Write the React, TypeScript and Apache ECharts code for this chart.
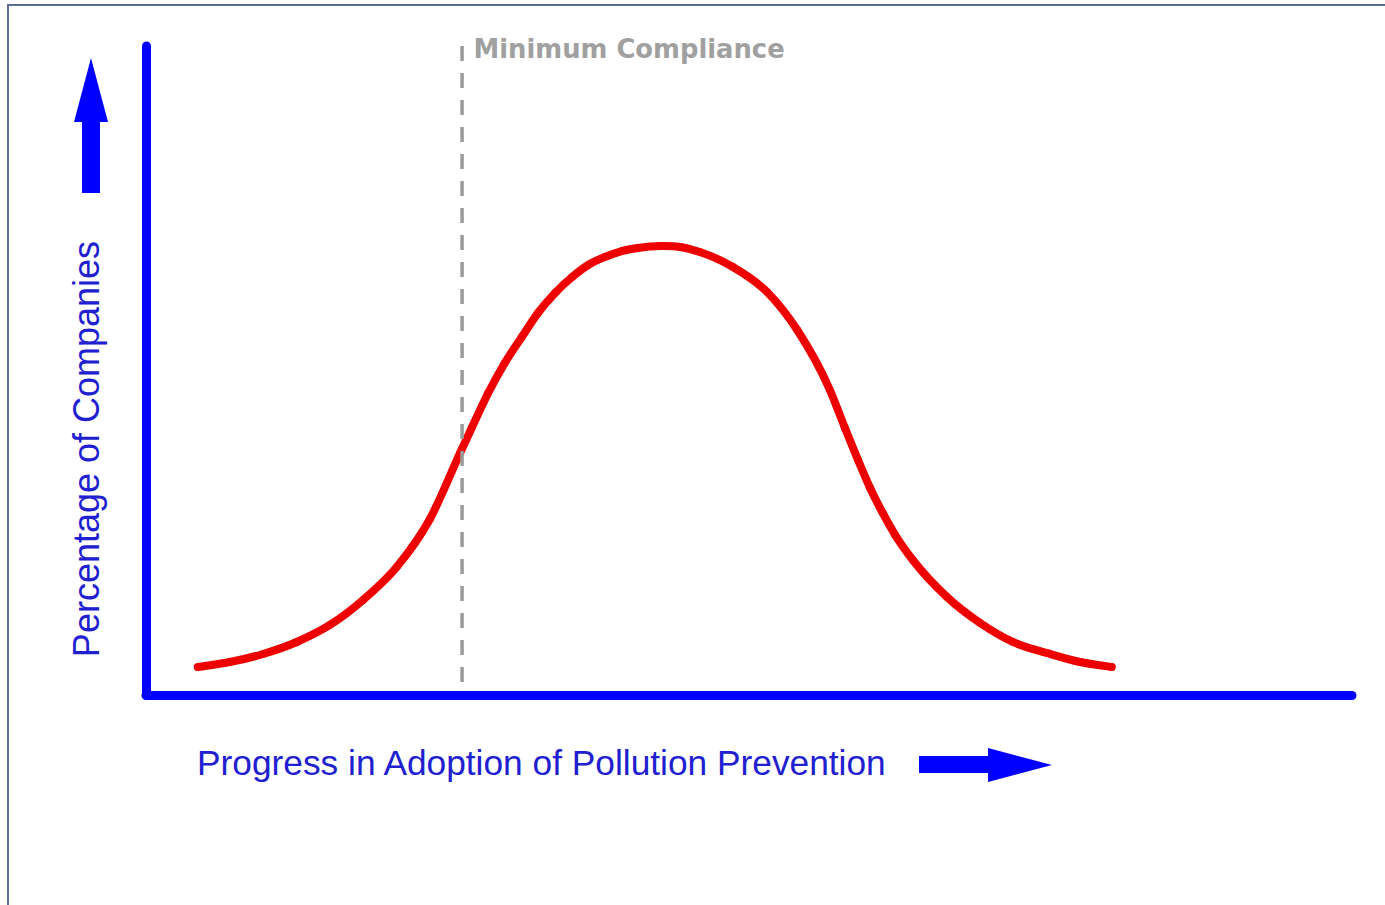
import React, { useEffect, useRef } from "react";
import * as echarts from "echarts";

// Curve (distribution of companies)
const progressX = [1.03, 1.67, 2.33, 3.0, 3.66, 4.32, 4.99, 5.65, 6.25, 6.49, 6.81, 7.14, 7.48, 7.8, 8.14, 8.48, 8.8, 9.13, 9.47, 9.79, 10.23, 10.63, 11.02, 11.68, 12.36, 12.96, 13.61, 13.91, 14.17, 14.41, 14.65, 14.91, 15.26, 15.94, 16.6, 17.25, 17.93, 18.59, 19.22];
const companiesY = [4.31, 5.08, 6.32, 8.17, 10.79, 14.64, 19.72, 27.12, 37.29, 41.29, 46.53, 51.16, 55.16, 58.86, 61.94, 64.41, 66.26, 67.49, 68.41, 68.88, 69.18, 69.03, 68.26, 65.95, 62.1, 56.24, 47.0, 41.14, 36.21, 31.9, 28.2, 24.65, 20.8, 15.1, 11.09, 8.17, 6.47, 5.08, 4.31];

// Minimum compliance marker
const complianceX = 6.29;
const complianceYRange = [100, 1.85];
const complianceLabel = "Minimum Compliance";

const xAxisRange = [0, 24];
const yAxisRange = [0, 100];

const yTitle = "Percentage of Companies";
const xTitle = "Progress in Adoption of Pollution Prevention";

export default function App() {
  const ref = useRef<HTMLDivElement>(null);

  useEffect(() => {
    if (!ref.current) return;
    const chart = echarts.init(ref.current, null, { renderer: "svg" });
    const blue = "#0000ff";
    const textBlue = "#2020d0";

    const curve = progressX.map((x, i) => [x, companiesY[i]]);
    const compliance = complianceYRange.map((y) => [complianceX, y]);
    const n = curve.length;

    // Smooth curve (cubic Hermite in x, in pixel space): each item draws a segment to the next point
    const renderSegment = (params: any, api: any) => {
      const i = params.dataIndex;
      if (i >= n - 1) return null;
      const pts = curve.map((d) => api.coord(d));
      const slope = (a: number, b: number) => (pts[b][1] - pts[a][1]) / (pts[b][0] - pts[a][0]);
      const tangent = (k: number) => {
        if (k <= 0) return slope(0, 1);
        if (k >= n - 1) return slope(n - 2, n - 1);
        const h0 = pts[k][0] - pts[k - 1][0];
        const h1 = pts[k + 1][0] - pts[k][0];
        return (slope(k - 1, k) * h1 + slope(k, k + 1) * h0) / (h0 + h1);
      };
      const p1 = pts[i];
      const p2 = pts[i + 1];
      const h = p2[0] - p1[0];
      const m1 = tangent(i);
      const m2 = tangent(i + 1);
      return {
        type: "bezierCurve",
        shape: {
          x1: p1[0],
          y1: p1[1],
          x2: p2[0],
          y2: p2[1],
          cpx1: p1[0] + h / 3,
          cpy1: p1[1] + (m1 * h) / 3,
          cpx2: p2[0] - h / 3,
          cpy2: p2[1] - (m2 * h) / 3,
        },
        style: { stroke: "#ee0000", lineWidth: 8, fill: "none", lineCap: "round" },
      };
    };

    const option: any = {
      animation: false,
      backgroundColor: "#ffffff",
      grid: { left: 146, right: 33, top: 46, bottom: 210, outerBoundsMode: "none" },
      xAxis: {
        type: "value",
        min: xAxisRange[0],
        max: xAxisRange[1],
        axisLine: { show: true, onZero: false, lineStyle: { color: blue, width: 9, cap: "round" } },
        axisTick: { show: false },
        axisLabel: { show: false },
        splitLine: { show: false },
      },
      yAxis: {
        type: "value",
        min: yAxisRange[0],
        max: yAxisRange[1],
        axisLine: { show: true, onZero: false, lineStyle: { color: blue, width: 9, cap: "round" } },
        axisTick: { show: false },
        axisLabel: { show: false },
        splitLine: { show: false },
      },
      series: [
        {
          type: "custom",
          coordinateSystem: "cartesian2d",
          data: curve,
          encode: { x: 0, y: 1 },
          renderItem: renderSegment,
          clip: false,
          z: 2,
        },
        {
          type: "line",
          data: compliance.map((pt, i) =>
            i === 0
              ? {
                  value: pt,
                  label: {
                    show: true,
                    position: "right",
                    distance: 11,
                    offset: [0, 3],
                    formatter: complianceLabel,
                    color: "#a0a0a0",
                    fontFamily: "DejaVu Sans",
                    fontWeight: "bold",
                    fontSize: 25.8,
                  },
                }
              : { value: pt }
          ),
          symbol: "circle",
          symbolSize: 1,
          showSymbol: true,
          itemStyle: { color: "rgba(0,0,0,0)" },
          lineStyle: { color: "#9a9a9a", width: 3.5, type: [15, 12] },
          z: 3,
        },
      ],
      graphic: [
        {
          type: "rect",
          shape: { x: 8, y: 5, width: 1500, height: 1100 },
          style: { fill: "none", stroke: "#5b6d94", lineWidth: 2 },
          silent: true,
        },
        {
          type: "polygon",
          shape: { points: [[91, 58], [108, 122], [74, 122]] },
          style: { fill: blue },
        },
        {
          type: "rect",
          shape: { x: 82, y: 121, width: 18, height: 72 },
          style: { fill: blue },
        },
        {
          type: "rect",
          shape: { x: 919, y: 756, width: 70, height: 17 },
          style: { fill: blue },
        },
        {
          type: "polygon",
          shape: { points: [[988, 748], [1052, 765], [988, 782]] },
          style: { fill: blue },
        },
        {
          type: "text",
          x: 86,
          y: 449,
          rotation: Math.PI / 2,
          style: {
            text: yTitle,
            fill: textBlue,
            fontFamily: "Liberation Sans",
            fontSize: 36,
            align: "center",
            verticalAlign: "middle",
          },
        },
        {
          type: "text",
          x: 197,
          y: 762,
          style: {
            text: xTitle,
            fill: textBlue,
            fontFamily: "Liberation Sans",
            fontSize: 35.3,
            align: "left",
            verticalAlign: "middle",
          },
        },
      ],
    };

    chart.setOption(option);
    return () => chart.dispose();
  }, []);

  return (
    <div
      ref={ref}
      style={{ position: "absolute", left: 0, top: 0, width: 1385, height: 905, background: "#fff" }}
    />
  );
}
